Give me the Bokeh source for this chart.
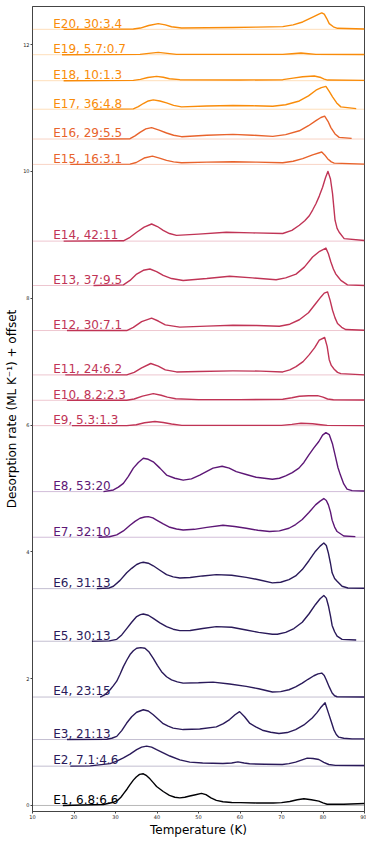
from bokeh.plotting import figure
from bokeh.models import Span, FixedTicker, Range1d
from bokeh.core.properties import value
from bokeh.embed import file_html
from bokeh.resources import INLINE

LABELS = ["E1, 6.8:6.6", "E2, 7.1:4.6", "E3, 21:13", "E4, 23:15", "E5, 30:13",
          "E6, 31:13", "E7, 32:10", "E8, 53:20", "E9, 5.3:1.3", "E10, 8.2:2.3",
          "E11, 24:6.2", "E12, 30:7.1", "E13, 37:9.5", "E14, 42:11", "E15, 16:3.1",
          "E16, 29:5.5", "E17, 36:4.8", "E18, 10:1.3", "E19, 5.7:0.7", "E20, 30:3.4"]
OFFSETS = [0, 0.62, 1.04, 1.71, 2.59, 3.42, 4.23, 4.95, 5.99, 6.39,
           6.79, 7.49, 8.20, 8.90, 10.11, 10.51, 10.98, 11.43, 11.84, 12.24]

E1_T = [17.3, 27.1, 29.5, 30.5, 31.3, 32, 32.8, 33.5, 34.3, 35, 35.8, 36.7, 37.5, 38.3, 39.1, 39.9, 40.7, 41.5, 43, 44.3, 45.5, 46.7, 47.9, 49.3, 50.7, 51.8, 53, 54.3, 55.9, 58, 60, 64, 68, 70, 72, 73.8, 75.4, 77.2, 79, 80, 81, 85, 90]
E1_R = [0, 0.016, 0.05, 0.08, 0.13, 0.19, 0.26, 0.33, 0.40, 0.45, 0.49, 0.50, 0.47, 0.42, 0.36, 0.30, 0.26, 0.22, 0.16, 0.13, 0.12, 0.13, 0.15, 0.17, 0.19, 0.17, 0.12, 0.08, 0.058, 0.048, 0.045, 0.04, 0.04, 0.045, 0.063, 0.09, 0.105, 0.09, 0.068, 0.04, 0.02, 0.02, 0.03]
E2_T = [19.1, 23.9, 28.7, 30.3, 31.9, 33.5, 35.1, 36.3, 37.5, 38.7, 39.9, 41.5, 43.1, 45.5, 47.9, 51, 55.9, 58, 59.5, 61, 62.3, 66, 70.2, 71.8, 73.4, 74.8, 76.2, 77.6, 79, 80.2, 81.4, 83, 90]
E2_R = [0, 0.005, 0.04, 0.08, 0.13, 0.19, 0.26, 0.30, 0.315, 0.30, 0.26, 0.21, 0.16, 0.10, 0.063, 0.05, 0.042, 0.05, 0.068, 0.05, 0.037, 0.03, 0.026, 0.04, 0.063, 0.095, 0.126, 0.12, 0.105, 0.06, 0.026, 0.012, 0.01]
E3_T = [18.3, 27.9, 29.1, 30.3, 31.5, 32.7, 33.9, 35.1, 36.7, 37.9, 39.1, 40.3, 41.5, 42.7, 43.9, 46.3, 50.3, 54.3, 56, 57.5, 58.8, 59.9, 61.1, 62.3, 63.8, 65.4, 67.4, 69.4, 71.4, 73.4, 75.4, 77.4, 78.5, 79.4, 80.5, 81.3, 82, 82.6, 83.2, 83.8, 85, 87, 90]
E3_R = [0, 0.005, 0.02, 0.05, 0.14, 0.26, 0.36, 0.43, 0.47, 0.45, 0.39, 0.32, 0.25, 0.21, 0.18, 0.157, 0.165, 0.2, 0.25, 0.315, 0.39, 0.44, 0.36, 0.26, 0.2, 0.147, 0.115, 0.095, 0.11, 0.157, 0.23, 0.34, 0.42, 0.50, 0.58, 0.42, 0.28, 0.157, 0.08, 0.037, 0.02, 0.01, 0.01]
E4_T = [26.3, 27.5, 28.7, 29.5, 30.3, 31.1, 31.9, 32.7, 33.5, 34.3, 35.1, 36.1, 37.1, 38.1, 39.1, 40.1, 41.1, 42.3, 43.5, 44.9, 46.3, 50, 53.5, 57.5, 61.5, 64.5, 67.8, 69.8, 71.8, 73.4, 75, 76.4, 77.8, 78.8, 79.7, 80.3, 80.8, 81.5, 82.2, 82.8, 83.4, 90]
E4_R = [0, 0.04, 0.115, 0.18, 0.25, 0.36, 0.48, 0.58, 0.67, 0.73, 0.77, 0.78, 0.77, 0.71, 0.61, 0.50, 0.40, 0.32, 0.27, 0.24, 0.22, 0.225, 0.236, 0.205, 0.168, 0.13, 0.079, 0.085, 0.115, 0.16, 0.22, 0.28, 0.336, 0.365, 0.378, 0.34, 0.27, 0.16, 0.063, 0.02, 0.005, 0]
E5_T = [24.3, 28.5, 30.3, 31.5, 32.7, 33.9, 35.1, 36, 36.7, 37.9, 39.1, 40.7, 42.3, 43.9, 45.5, 48, 51, 54.3, 58, 61.5, 64.5, 67.8, 69, 71, 73, 75, 76.6, 78.2, 79.3, 80.2, 80.8, 81.3, 81.8, 82.2, 82.8, 83.4, 84.6, 88]
E5_R = [0, 0.005, 0.03, 0.1, 0.2, 0.3, 0.39, 0.42, 0.43, 0.41, 0.36, 0.29, 0.23, 0.19, 0.168, 0.17, 0.2, 0.23, 0.22, 0.178, 0.14, 0.11, 0.11, 0.14, 0.2, 0.30, 0.43, 0.58, 0.67, 0.72, 0.68, 0.56, 0.40, 0.25, 0.15, 0.08, 0.03, 0.02]
E6_T = [25.5, 28.5, 29.5, 31.1, 32.7, 33.9, 35.1, 36, 36.7, 37.9, 39.1, 40.7, 42.3, 43.9, 45.5, 48, 51, 54.3, 58, 61.5, 64.5, 67.8, 69.8, 71.8, 73.4, 75, 76.6, 78.2, 79.3, 80.2, 80.8, 81.3, 81.8, 82.2, 82.8, 83.4, 84.6, 86, 90]
E6_R = [0, 0.01, 0.037, 0.13, 0.25, 0.32, 0.38, 0.405, 0.415, 0.40, 0.36, 0.29, 0.22, 0.185, 0.168, 0.175, 0.2, 0.22, 0.21, 0.178, 0.14, 0.09, 0.1, 0.142, 0.2, 0.30, 0.44, 0.59, 0.67, 0.72, 0.68, 0.56, 0.40, 0.25, 0.16, 0.115, 0.037, 0.01, 0.005]
E7_T = [25.9, 28.5, 30.3, 31.9, 33.5, 34.7, 35.9, 37, 37.9, 39, 39.9, 41.5, 43.1, 44.7, 46.3, 49, 52, 55.9, 58.7, 61.5, 64.3, 67.1, 69.5, 71.8, 73.4, 75, 76.6, 78.2, 79.3, 80.2, 80.8, 81.3, 81.8, 82.2, 82.8, 83.4, 85, 87.8]
E7_R = [0, 0.008, 0.037, 0.1, 0.19, 0.25, 0.30, 0.32, 0.325, 0.305, 0.27, 0.21, 0.157, 0.13, 0.115, 0.125, 0.155, 0.19, 0.17, 0.142, 0.11, 0.09, 0.1, 0.142, 0.2, 0.28, 0.39, 0.51, 0.57, 0.61, 0.58, 0.51, 0.40, 0.27, 0.16, 0.09, 0.02, 0.01]
E8_T = [27.1, 29.5, 30.7, 31.9, 33.1, 34.3, 35.5, 36.7, 37.9, 39.1, 40.7, 42.3, 44.3, 46.3, 48.3, 50.3, 52, 53.5, 55.7, 57.4, 59.1, 61.5, 63.9, 67.8, 69.5, 71, 72.6, 74.2, 75.4, 76.6, 77.8, 79, 79.9, 80.7, 81.5, 82.3, 83, 83.6, 84.2, 85, 85.8, 87, 90]
E8_R = [0, 0.026, 0.07, 0.13, 0.24, 0.37, 0.46, 0.525, 0.51, 0.47, 0.37, 0.26, 0.21, 0.18, 0.2, 0.26, 0.32, 0.37, 0.40, 0.37, 0.315, 0.27, 0.226, 0.194, 0.21, 0.247, 0.3, 0.37, 0.46, 0.58, 0.69, 0.79, 0.89, 0.93, 0.90, 0.75, 0.55, 0.38, 0.26, 0.12, 0.04, 0.015, 0.01]
E9_T = [19.5, 32.7, 35, 37, 39.5, 41.5, 43.5, 46, 60, 70, 72.5, 74.7, 77.5, 79.5, 81, 90]
E9_R = [0, 0, 0.015, 0.045, 0.065, 0.05, 0.025, 0.005, 0.005, 0.005, 0.02, 0.037, 0.03, 0.015, 0.005, 0]
E10_T = [18.3, 32.7, 34.5, 36.5, 39.1, 41, 42.5, 44.5, 50, 60, 70.3, 72.5, 74.3, 76.5, 78.7, 80, 81.1, 82.5, 90]
E10_R = [0, 0, 0.02, 0.065, 0.105, 0.08, 0.05, 0.025, 0.01, 0.01, 0.016, 0.04, 0.063, 0.072, 0.074, 0.05, 0.02, 0.008, 0.005]
E11_T = [17.9, 32.7, 34.5, 36.3, 38.5, 40.3, 42, 44.7, 50, 58.3, 65, 70.3, 72, 73.5, 75.2, 76.7, 78, 79.1, 80.4, 81, 81.5, 82, 82.7, 83.5, 84.3, 90]
E11_R = [0, 0, 0.04, 0.11, 0.18, 0.14, 0.08, 0.047, 0.055, 0.063, 0.06, 0.047, 0.08, 0.13, 0.21, 0.32, 0.43, 0.55, 0.59, 0.45, 0.24, 0.15, 0.09, 0.04, 0.02, 0]
E12_T = [18.3, 32.7, 34.3, 36.3, 38.7, 40.3, 42, 45.5, 52, 58.3, 64, 69.5, 72, 74.3, 76.5, 78.3, 79.5, 80.3, 81.1, 81.7, 82.3, 82.9, 83.5, 84.5, 85.5, 90]
E12_R = [0, 0, 0.05, 0.14, 0.195, 0.15, 0.09, 0.053, 0.07, 0.084, 0.08, 0.068, 0.1, 0.17, 0.28, 0.43, 0.53, 0.59, 0.61, 0.48, 0.32, 0.2, 0.11, 0.05, 0.016, 0.005]
E13_T = [24.7, 31.9, 33.5, 35.1, 36.7, 38.3, 39.9, 41.5, 43.5, 46.3, 52, 57.5, 63, 68.7, 71, 73.5, 75.5, 77.5, 79.2, 80.7, 81.3, 81.9, 82.5, 83.1, 83.7, 84.3, 85.9, 90]
E13_R = [0, 0.01, 0.08, 0.18, 0.24, 0.26, 0.22, 0.16, 0.11, 0.08, 0.11, 0.147, 0.12, 0.09, 0.12, 0.18, 0.29, 0.45, 0.54, 0.59, 0.5, 0.37, 0.26, 0.18, 0.13, 0.08, 0.01, 0]
E14_T = [17.5, 31.9, 33.5, 35.1, 36.9, 38.7, 40.1, 41.5, 43, 44.7, 50, 56.7, 63, 70.3, 72.5, 74.3, 75.6, 76.7, 77.5, 78.3, 79.1, 79.9, 80.6, 81.2, 81.8, 82.3, 82.9, 83.4, 83.9, 85.1, 90]
E14_R = [0, 0.005, 0.06, 0.14, 0.22, 0.27, 0.23, 0.17, 0.12, 0.09, 0.11, 0.14, 0.13, 0.12, 0.17, 0.25, 0.32, 0.40, 0.49, 0.59, 0.71, 0.85, 1.0, 1.10, 0.98, 0.75, 0.33, 0.2, 0.14, 0.04, 0.01]
E15_T = [19.1, 33.5, 35, 36.9, 38.9, 40.6, 42.3, 44, 45.9, 52, 58.3, 64, 70.3, 72.8, 75.1, 77.5, 79.7, 80.4, 81.1, 82, 82.7, 90]
E15_R = [0, 0.005, 0.03, 0.1, 0.13, 0.1, 0.063, 0.04, 0.026, 0.035, 0.042, 0.035, 0.026, 0.05, 0.09, 0.15, 0.195, 0.15, 0.09, 0.04, 0.02, 0.005]
E16_T = [25.9, 33.5, 34.7, 35.9, 37.3, 38.7, 40.5, 42.3, 44, 45.9, 52, 58.3, 63, 67.9, 71, 74.3, 76.5, 78.3, 79.5, 80.4, 81.2, 81.9, 82.9, 83.9, 86.9]
E16_R = [0, 0.005, 0.05, 0.105, 0.16, 0.18, 0.14, 0.095, 0.06, 0.037, 0.06, 0.074, 0.06, 0.042, 0.07, 0.13, 0.21, 0.29, 0.34, 0.36, 0.28, 0.18, 0.08, 0.026, 0.01]
E17_T = [24.7, 34.3, 35.5, 36.7, 37.9, 39.1, 40.7, 42.3, 44, 45.9, 52, 58.3, 63, 67.9, 71, 74.3, 76.5, 78.3, 79.6, 80.7, 81.5, 82.3, 83.3, 84.3, 88]
E17_R = [0, 0.005, 0.04, 0.09, 0.13, 0.147, 0.13, 0.10, 0.06, 0.037, 0.05, 0.058, 0.055, 0.047, 0.07, 0.13, 0.21, 0.30, 0.34, 0.36, 0.28, 0.195, 0.1, 0.037, 0.01]
E18_T = [17.5, 34.3, 36, 37.8, 39.9, 41.5, 43, 45.5, 60, 70.3, 72.8, 75.1, 77.9, 79.5, 80.3, 81.1, 90]
E18_R = [0, 0.005, 0.02, 0.05, 0.068, 0.055, 0.03, 0.016, 0.01, 0.016, 0.04, 0.063, 0.074, 0.05, 0.025, 0.01, 0.005]
E19_T = [17.1, 35.9, 38, 40.3, 42.5, 44.7, 60, 70.3, 72.5, 74.7, 76.5, 78.3, 90]
E19_R = [0, 0.005, 0.02, 0.037, 0.02, 0.005, 0.005, 0.005, 0.015, 0.026, 0.015, 0.005, 0.003]
E20_T = [17.5, 34.3, 36, 38, 40.3, 42, 43.5, 45.9, 52, 58.3, 64, 70.3, 72.8, 75.1, 76.5, 77.9, 79, 79.7, 80.3, 80.9, 81.5, 82.5, 83.5, 90]
E20_R = [0, 0.005, 0.02, 0.06, 0.09, 0.07, 0.04, 0.02, 0.025, 0.03, 0.035, 0.042, 0.07, 0.116, 0.16, 0.205, 0.24, 0.26, 0.24, 0.17, 0.09, 0.04, 0.016, 0.005]

X_TICKS = [10, 20, 30, 40, 50, 60, 70, 80, 90]
Y_TICKS = [0, 2, 4, 6, 8, 10, 12]

SERIES_T = [E1_T, E2_T, E3_T, E4_T, E5_T, E6_T, E7_T, E8_T, E9_T, E10_T,
            E11_T, E12_T, E13_T, E14_T, E15_T, E16_T, E17_T, E18_T, E19_T, E20_T]
SERIES_R = [E1_R, E2_R, E3_R, E4_R, E5_R, E6_R, E7_R, E8_R, E9_R, E10_R,
            E11_R, E12_R, E13_R, E14_R, E15_R, E16_R, E17_R, E18_R, E19_R, E20_R]

# styles
C_BLACK = "#000004"
C_NAVY = "#2a1a5a"
C_PURP = "#5d1776"
C_RED = "#c03456"
C_ORRED = "#e8632c"
C_ORANGE = "#f98c0a"
COLORS = [C_BLACK] + [C_NAVY] * 5 + [C_PURP] * 2 + [C_RED] * 6 + [C_ORRED] * 2 + [C_ORANGE] * 4

FONT = "DejaVu Sans"

p = figure(width=366, height=839, output_backend="svg", toolbar_location=None,
           x_range=Range1d(10, 90), y_range=Range1d(-0.095, 12.6),
           min_border_left=32, min_border_right=2, min_border_top=6, min_border_bottom=0)
p.background_fill_color = "white"
p.border_fill_color = "white"
p.outline_line_color = "#444444"
p.outline_line_width = 1
p.xgrid.visible = False
p.ygrid.visible = False

for ax in (p.xaxis[0], p.yaxis[0]):
    ax.major_label_text_font = FONT
    ax.major_label_text_font_size = "5px"
    ax.major_label_text_color = "#222222"
    ax.axis_label_text_font = FONT
    ax.axis_label_text_font_size = "12px"
    ax.axis_label_text_font_style = "normal"
    ax.axis_label_text_color = "black"
    ax.major_tick_out = 2
    ax.major_tick_in = 0
    ax.minor_tick_out = 0
    ax.minor_tick_in = 0
    ax.axis_line_color = "#444444"
    ax.major_tick_line_color = "#444444"
    ax.major_label_standoff = 1
    ax.axis_label_standoff = 1

p.xaxis.ticker = FixedTicker(ticks=X_TICKS)
p.yaxis.ticker = FixedTicker(ticks=Y_TICKS)
p.xaxis.axis_label = "Temperature (K)"
p.yaxis.axis_label = "Desorption rate (ML K\u207b\u00b9) + offset"

for i in range(len(LABELS)):
    off = OFFSETS[i]
    col = COLORS[i]
    p.add_layout(Span(location=off, dimension="width", line_color=col,
                      line_width=0.8, line_dash="1 1", line_alpha=0.7))
    ys = [off + r for r in SERIES_R[i]]
    p.line(SERIES_T[i], ys, line_color=col, line_width=1.4, line_join="round")

p.text(x=[15] * len(LABELS), y=[o + 0.09 for o in OFFSETS], text=LABELS,
       text_color=COLORS, text_font=value(FONT), text_font_size="12px",
       text_baseline="alphabetic", text_align="left")

open("out.html", "w").write(file_html(p, INLINE))
